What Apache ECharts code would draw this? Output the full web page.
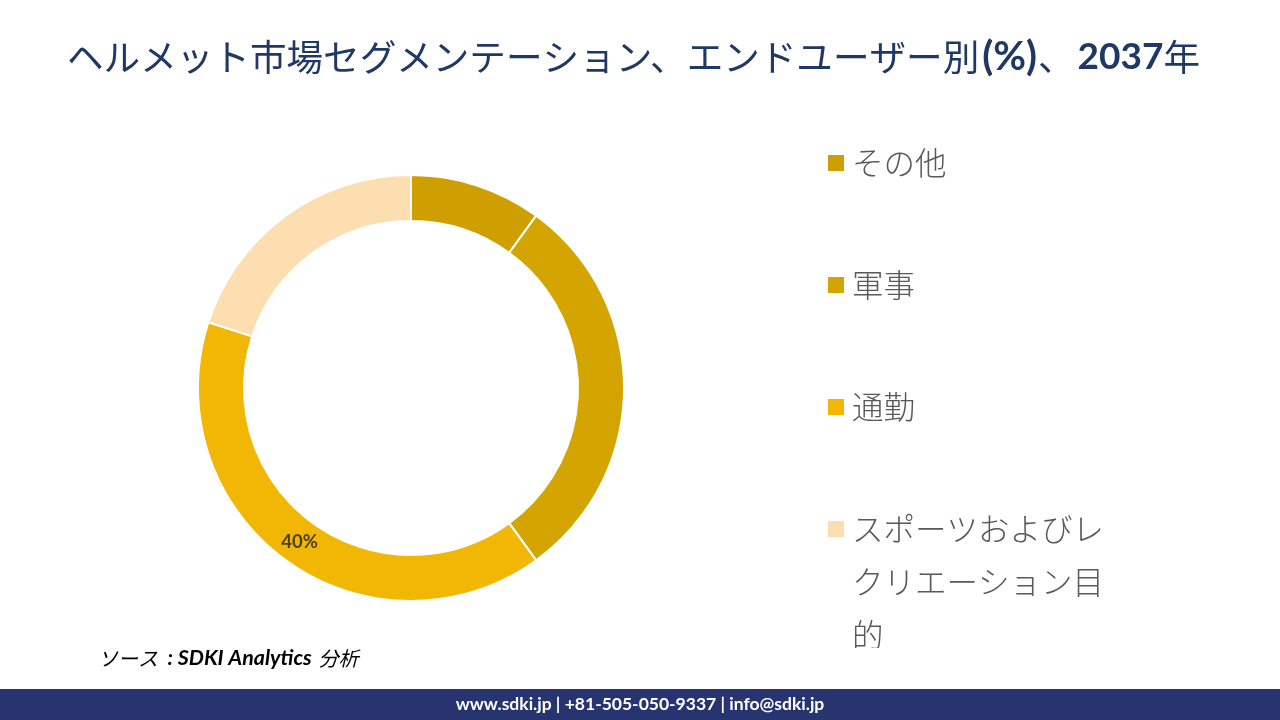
<!DOCTYPE html>
<html>
<head>
<meta charset="utf-8">
<style>
html,body{margin:0;padding:0;background:#fff}
#main{width:1280px;height:720px}
</style>
<script src="https://cdn.jsdelivr.net/npm/echarts@6/dist/echarts.min.js"></script>
</head>
<body>
<div id="main"></div>
<script>
// clockwise from 12 o'clock
var categories = ['その他', '軍事', '通勤', 'スポーツおよびレクリエーション目的'];
var shares = [10, 30, 40, 20];
var labelled = ['通勤'];
var colors = ['#CF9F00', '#D4A500', '#F2B705', '#FCDEB0'];
var legendLines = {'スポーツおよびレクリエーション目的': 'スポーツおよびレ\nクリエーション目\n的'};
var legendTops = [136.5, 258.5, 380.5, 396.5];

var cjk = '"Noto Sans CJK JP"';
var navy = '#1F3864';

var option = {
    animation: false,
    backgroundColor: '#fff',
    legend: categories.map(function (name, i) {
        return {
            data: [name],
            left: 826,
            top: legendTops[i],
            padding: 0,
            icon: 'rect',
            itemWidth: 18,
            itemHeight: 18,
            itemGap: 0,
            selectedMode: false,
            // blank lines keep the first text line level with the swatch
            formatter: function (n) { return legendLines[n] ? '\n\n' + legendLines[n] : n; },
            textStyle: {
                fontFamily: cjk,
                fontSize: 31.5,
                fontWeight: 300,
                lineHeight: 53,
                color: '#595959',
                padding: [0, 0, 0, 2]
            }
        };
    }),
    series: [{
        type: 'pie',
        center: [411, 388],
        radius: [167, 213],
        startAngle: 90,
        silent: true,
        itemStyle: {borderColor: '#fff', borderWidth: 2},
        labelLine: {show: false},
        data: categories.map(function (name, i) {
            return {
                name: name,
                value: shares[i],
                itemStyle: {color: colors[i]},
                label: {
                    show: labelled.indexOf(name) >= 0,
                    position: 'inside',
                    offset: [2, -2],
                    formatter: '{c}%',
                    fontFamily: 'Lato',
                    fontWeight: 'bold',
                    fontSize: 18.5,
                    color: '#4A4010'
                }
            };
        })
    }],
    graphic: [
        {
            type: 'text', left: 67, top: 37,
            style: {
                text: '{a|ヘルメット市場セグメンテーション、エンドユーザー別}{c|(%)}{a|、}{b|2037}{a|年}',
                rich: {
                    a: {fontFamily: cjk, fontSize: 36.6, fontWeight: 'normal', fill: navy},
                    b: {fontFamily: 'Lato', fontSize: 37, fontWeight: 'bold', fill: navy, padding: [0, 0, 0, 3]},
                    c: {fontFamily: 'Lato', fontSize: 40, fontWeight: 'bold', fill: navy, padding: [0, 1, 0, 3]}
                }
            }
        },
        // the last legend line is cut off at its foot in the original
        {type: 'rect', left: 846, top: 648, z: 20, shape: {width: 50, height: 8}, style: {fill: '#fff'}},
        {type: 'rect', left: 0, top: 689, shape: {width: 1280, height: 31}, style: {fill: '#27346F'}},
        {
            type: 'text', left: 'center', top: 695,
            style: {
                text: 'www.sdki.jp | +81-505-050-9337 | info@sdki.jp',
                fontFamily: 'Lato', fontWeight: 'bold', fontSize: 17.5, fill: '#fff'
            }
        },
        {
            type: 'text', left: 98, top: 648,
            style: {
                text: '{c|ソース }{l|: SDKI Analytics }{c|分析}',
                rich: {
                    c: {fontFamily: cjk, fontStyle: 'italic', fontWeight: 'normal', fontSize: 20, fill: '#000'},
                    l: {fontFamily: 'Lato', fontStyle: 'italic', fontWeight: 'bold', fontSize: 21.4, fill: '#000', padding: [0, 2, 0, 5]}
                }
            }
        }
    ]
};

var myChart = echarts.init(document.getElementById('main'));
myChart.setOption(option);
</script>
</body>
</html>
